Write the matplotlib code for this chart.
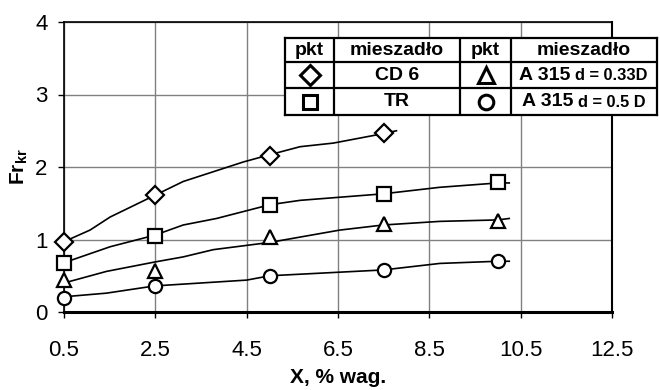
import numpy as np
import matplotlib
matplotlib.use('Agg')
import matplotlib.pyplot as plt

plt.rcParams['font.family'] = ['Liberation Sans', 'DejaVu Sans']

# measured points
x_cd6 = [0.5, 2.5, 5.0, 7.5]
y_cd6 = [0.97, 1.61, 2.15, 2.47]
x_pts = [0.5, 2.5, 5.0, 7.5, 10.0]
y_tr = [0.68, 1.05, 1.48, 1.63, 1.79]
y_a033 = [0.44, 0.57, 1.04, 1.21, 1.26]
y_a05 = [0.19, 0.36, 0.50, 0.58, 0.70]

# fitted curves
fx_cd6 = [0.5, 1.07, 1.51, 2.49, 3.11, 4.43, 5.01, 5.67, 6.40, 7.49, 7.78]
fy_cd6 = [0.97, 1.13, 1.31, 1.61, 1.80, 2.07, 2.17, 2.28, 2.33, 2.46, 2.50]
fx_tr = [0.5, 1.51, 2.49, 3.11, 3.84, 5.01, 5.67, 7.49, 8.73, 10.0, 10.25]
fy_tr = [0.68, 0.90, 1.06, 1.20, 1.29, 1.48, 1.54, 1.63, 1.72, 1.78, 1.78]
fx_a033 = [0.5, 1.43, 2.49, 3.11, 3.77, 5.01, 6.54, 7.49, 8.73, 10.0, 10.25]
fy_a033 = [0.40, 0.56, 0.69, 0.76, 0.86, 0.96, 1.13, 1.20, 1.25, 1.27, 1.29]
fx_a05 = [0.5, 1.43, 2.49, 4.5, 5.01, 7.49, 8.73, 10.0, 10.25]
fy_a05 = [0.21, 0.26, 0.36, 0.44, 0.50, 0.58, 0.67, 0.70, 0.70]

xticks = [0.5, 2.5, 4.5, 6.5, 8.5, 10.5, 12.5]
yticks = [0, 1, 2, 3, 4]

fig = plt.figure(figsize=(6.6, 3.9), dpi=100)
ax = fig.add_axes([64/660, 1-312/390, (612-64)/660, (312-22)/390])

ax.set_xlim(0.5, 12.5)
ax.set_ylim(0, 4)
ax.set_xticks(xticks)
ax.set_xticklabels(['0.5', '2.5', '4.5', '6.5', '8.5', '10.5', '12.5'])
ax.set_yticks(yticks)
ax.tick_params(labelsize=16, length=4.3, direction='out', width=1)
ax.tick_params(axis='x', pad=16)
ax.tick_params(axis='y', pad=7.5)
ax.grid(True, color='#808080', lw=1)
ax.set_axisbelow(True)

for s in ['left', 'top']:
    ax.spines[s].set_linewidth(1.2)
ax.spines['right'].set_linewidth(1.5)
ax.spines['bottom'].set_linewidth(2.2)

lw = 1.2
ax.plot(fx_cd6, fy_cd6, color='black', lw=lw, clip_on=False)
ax.plot(fx_tr, fy_tr, color='black', lw=lw, clip_on=False)
ax.plot(fx_a033, fy_a033, color='black', lw=lw, clip_on=False)
ax.plot(fx_a05, fy_a05, color='black', lw=lw, clip_on=False)

mk = dict(ls='none', mfc='white', mec='black', mew=1.6, clip_on=False, zorder=5)
ax.plot(x_cd6, y_cd6, marker='D', ms=9, **mk)
ax.plot(x_pts, y_tr, marker='s', ms=9.5, **mk)
ax.plot(x_pts, y_a033, marker='^', ms=10, **mk)
ax.plot(x_pts, y_a05, marker='o', ms=9.5, **mk)

ax.set_xlabel('X, % wag.', fontsize=15, fontweight='bold', labelpad=5)
ax.set_ylabel(r'Fr$_\mathregular{kr}$', fontsize=15, fontweight='bold', labelpad=4)

# table in the upper right
tx0, tx1, ty0, ty1 = 285, 657, 38, 115
ta = fig.add_axes([tx0/660, 1-ty1/390, (tx1-tx0)/660, (ty1-ty0)/390])
ta.set_xlim(0, tx1-tx0)
ta.set_ylim(ty1-ty0, 0)
ta.set_xticks([])
ta.set_yticks([])
for s in ta.spines.values():
    s.set_linewidth(1.6)
for cx in [49, 175, 226]:
    ta.axvline(cx, color='black', lw=1.6)
for cy in [24, 50]:
    ta.axhline(cy, color='black', lw=1.6)

rows = [12, 37, 63.5]
hd = dict(fontsize=14, fontweight='bold', ha='center', va='center')
ta.text(24.5, rows[0], 'pkt', **hd)
ta.text(112, rows[0], 'mieszadło', **hd)
ta.text(200.5, rows[0], 'pkt', **hd)
ta.text(299, rows[0], 'mieszadło', **hd)
ta.text(112, rows[1], 'CD 6', **hd)
ta.text(112, rows[2], 'TR', **hd)
ta.text(285, rows[1], 'A 315', fontsize=14, fontweight='bold', ha='right', va='center')
ta.text(290, rows[1] + 1, 'd = 0.33D', fontsize=11.8, fontweight='bold', ha='left', va='center')
ta.text(288, rows[2], 'A 315', fontsize=14, fontweight='bold', ha='right', va='center')
ta.text(293, rows[2] + 1, 'd = 0.5 D', fontsize=11.8, fontweight='bold', ha='left', va='center')

tk = dict(ls='none', mfc='white', mec='black', mew=2.2)
ta.plot([24.5], [rows[1]], marker='D', ms=10, **tk)
ta.plot([24.5], [rows[2]], marker='s', ms=10, **tk)
ta.plot([200.5], [rows[1]], marker='^', ms=11, **tk)
ta.plot([200.5], [rows[2]], marker='o', ms=10.5, **tk)

fig.savefig('out.png', dpi=100)
